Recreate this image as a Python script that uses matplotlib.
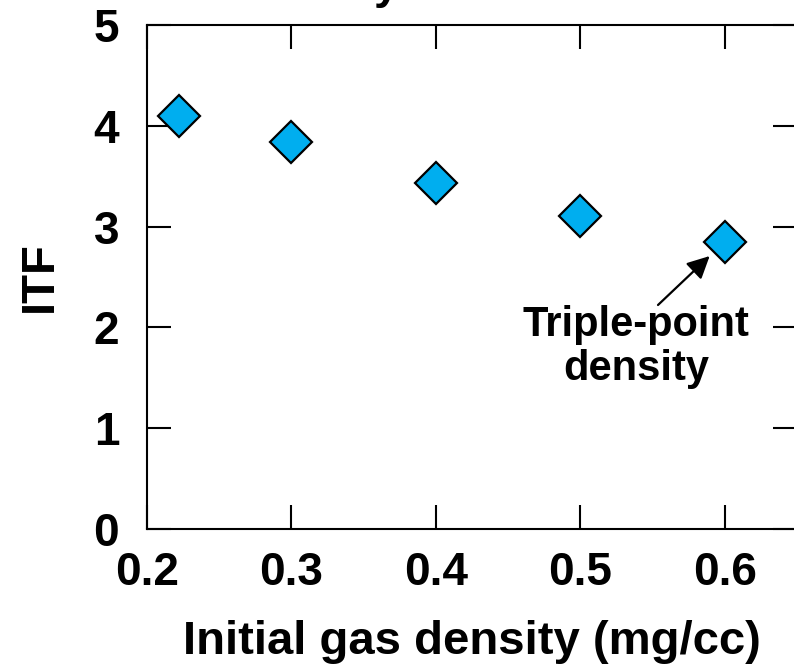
import matplotlib
matplotlib.use("Agg")
import matplotlib.pyplot as plt

plt.rcParams['font.family'] = ['Liberation Sans', 'DejaVu Sans']
plt.rcParams['font.weight'] = 'bold'

# data
gas_density = [0.222, 0.3, 0.4, 0.5, 0.6]   # mg/cc
itf = [4.10, 3.84, 3.43, 3.11, 2.85]

x_ticks = [0.2, 0.3, 0.4, 0.5, 0.6]
y_ticks = [0, 1, 2, 3, 4, 5]

fig = plt.figure(figsize=(7.94, 6.65), dpi=100)
# right spine sits just past the image edge in the reference
ax = fig.add_axes([147/794, 136/665, 650/794, 504/665])

ax.plot(gas_density, itf, linestyle='none', marker='D', markersize=21,
        markerfacecolor='#00AEEF', markeredgecolor='black', markeredgewidth=1.6,
        clip_on=False)

ax.set_xlim(0.2, 0.65)
ax.set_ylim(0, 5)
ax.set_xticks(x_ticks)
ax.set_xticklabels([f'{v:.1f}' for v in x_ticks])
ax.set_yticks(y_ticks)

for s in ax.spines.values():
    s.set_linewidth(1.5)
ax.tick_params(direction='in', length=17, width=1.5, top=True, right=True,
               labelsize=33)
ax.tick_params(axis='x', pad=16)
ax.tick_params(axis='y', pad=20)

ax.set_xlabel('Initial gas density (mg/cc)', fontsize=34, fontweight='bold', labelpad=18)
ax.set_ylabel('ITF', fontsize=34, fontweight='bold', labelpad=23)

# arrow pointing at the last point (triple-point density)
ax.annotate('', xy=(gas_density[-1], itf[-1]),
            xytext=(658/794, 360/665), textcoords='figure fraction',
            arrowprops=dict(arrowstyle='-|>', color='black', lw=1.6,
                            mutation_scale=34, shrinkA=0, shrinkB=15))
fig.text(636/794, 1 - 347/665, 'Triple-point\ndensity', ha='center', va='center',
         fontsize=30, fontweight='bold', linespacing=1.15)

# title cut off at the top of the reference; only the descender shows
fig.text(400/794, 1 + 2/665, 'density', ha='right', va='baseline',
         fontsize=33, fontweight='bold')

fig.savefig('out.png', dpi=100)
